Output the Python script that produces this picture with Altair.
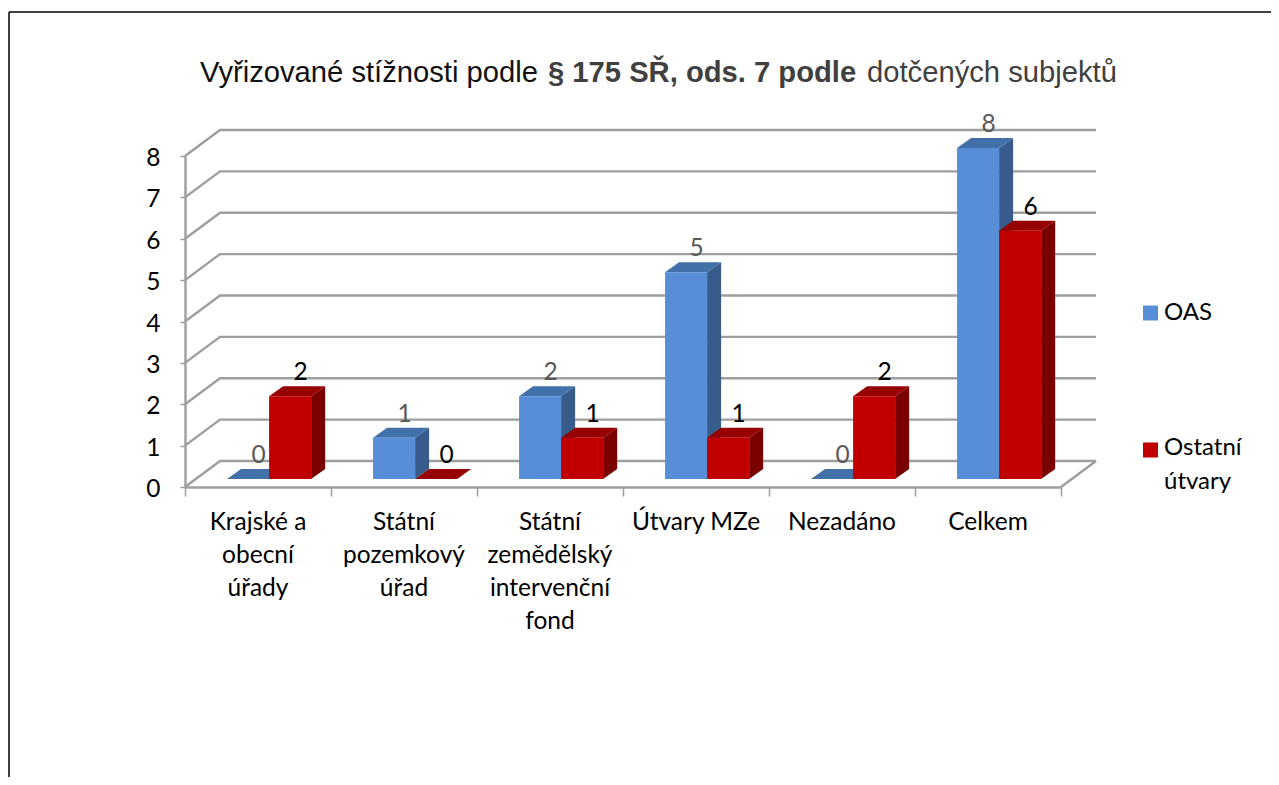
import altair as alt
import pandas as pd

categories = ["Krajské a\nobecní\núřady", "Státní\npozemkový\núřad",
              "Státní\nzemědělský\nintervenční\nfond", "Útvary MZe", "Nezadáno", "Celkem"]
oas = [0, 1, 2, 5, 0, 8]
ostatni = [2, 0, 1, 1, 2, 6]
SERIES = ["OAS", "Ostatní útvary"]
FRONT = ["#588DD7", "#C00000"]
SIDE = ["#375B8A", "#7A0000"]
TOP = ["#4270A8", "#960000"]
LABEL = ["#595959", "#000000"]
FONT = "Lato"
SIZE = 24.5
GRID = "#9E9E9E"

# depth of the floor and of the bars, in scale units
WALL_DX, WALL_DY = 0.24, 0.628
BAR_DX, BAR_DY = 0.096, 0.2415
BASE = 0.193
BAR_W = 0.288

xs = alt.Scale(domain=[0, 6], nice=False, zero=False)
ys = alt.Scale(domain=[0, 8], nice=False, zero=False)
X = lambda f, **k: alt.X(f, type="quantitative", scale=xs, title=None, **k)
Y = lambda f, **k: alt.Y(f, type="quantitative", scale=ys, title=None, **k)

# grid on the walls
grid_rows = []
for v in range(9):
    for j, (a, b) in enumerate([(0, v), (WALL_DX, v + WALL_DY), (6 + WALL_DX, v + WALL_DY)]):
        grid_rows.append(dict(v=v, j=j, x=a, y=b))
floor = pd.DataFrame([dict(x=6, y=0, j=0), dict(x=6 + WALL_DX, y=WALL_DY, j=1)])
grid = alt.Chart(pd.DataFrame(grid_rows)).mark_line(color=GRID, strokeWidth=2.4, clip=False).encode(
    x=X("x"), y=Y("y"), detail="v:N", order="j:Q")
floor_line = alt.Chart(floor).mark_line(color=GRID, strokeWidth=2.4).encode(
    x=X("x"), y=Y("y"), order="j:Q")


def bar_layers(values, s):
    left = [i + BAR_W * (1 + s) for i in range(6)]
    side, top = [], []
    for i, (l, v) in enumerate(zip(left, values)):
        r = l + BAR_W
        h = v + BASE
        side += [dict(i=i, x=r, y=h, y2=BASE),
                 dict(i=i, x=r + BAR_DX, y=h + BAR_DY, y2=BASE + BAR_DY)]
        top += [dict(i=i, x=l, x2=r, y=h),
                dict(i=i, x=l + BAR_DX, x2=r + BAR_DX, y=h + BAR_DY)]
    front = pd.DataFrame(dict(x=left, x2=[l + BAR_W for l in left],
                              y=[v + BASE for v in values], y2=[BASE] * 6,
                              s=[SERIES[s]] * 6, v=values))
    side_c = alt.Chart(pd.DataFrame(side)).mark_area(color=SIDE[s], line=False).encode(
        x=X("x"), y=Y("y"), y2="y2:Q", detail="i:N")
    top_c = alt.Chart(pd.DataFrame(top)).mark_area(color=TOP[s], orient="horizontal").encode(
        x=X("x"), x2="x2:Q", y=Y("y"), detail="i:N")
    front_c = alt.Chart(front).mark_rect(color=FRONT[s]).encode(
        x=X("x"), x2="x2:Q", y=Y("y"), y2="y2:Q")
    # number above each bar
    txt = pd.DataFrame(dict(x=[l + BAR_W / 2 for l in left], y=[v + BASE for v in values], v=values))
    text_c = alt.Chart(txt).mark_text(font=FONT, fontSize=SIZE, color=LABEL[s], dx=10.5, dy=-23,
                                      baseline="middle", align="center").encode(
        x=X("x"), y=Y("y"), text="v:Q")
    return [side_c, top_c, front_c], text_c


blue, blue_t = bar_layers(oas, 0)
red, red_t = bar_layers(ostatni, 1)

axes = alt.Chart(pd.DataFrame(dict(x=[0], y=[0]))).mark_point(opacity=0).encode(
    x=X("x", axis=alt.Axis(values=list(range(7)), labels=False, grid=False, domainColor=GRID,
                           domainWidth=2.4, tickColor=GRID, tickWidth=1.5, tickSize=9)),
    y=Y("y", axis=alt.Axis(values=list(range(9)), grid=False, domainColor=GRID, domainWidth=2.4,
                           tickColor=GRID, tickWidth=1.5, tickSize=5, labelFont=FONT,
                           labelFontSize=SIZE, labelColor="#000000", labelPadding=20, labelOffset=2.5,
                           format="d")))

cat_df = pd.DataFrame(dict(x=[i + 0.5 for i in range(6)], y=[0] * 6, c=categories))
cat_labels = alt.Chart(cat_df).mark_text(font=FONT, fontSize=SIZE, color="#000000", lineBreak="\n",
                                         lineHeight=33, baseline="top", align="center", dy=24).encode(
    x=X("x"), y=Y("y"), text="c:N")

FONT_T = "Liberation Sans"
title_parts = [("Vyřizované stížnosti podle", "normal", 15, "#111111"),
               ("§ 175 SŘ, ods. 7 podle", "bold", 363, "#404040"),
               ("dotčených subjektů", "normal", 682, "#404040")]
titles = []
for text, weight, px, col in title_parts:
    titles.append(alt.Chart(pd.DataFrame(dict(t=[text]))).mark_text(
        font=FONT_T, fontSize=29.2, fontWeight=weight, color=col, align="left", baseline="middle").encode(
        x=alt.value(px), y=alt.value(-83), text="t:N"))

# legend: one swatch and one label per series, placed by hand as in the reference
legend_layers = []
for name, sw_col, sw_y, txt_y in [("OAS", FRONT[0], 157, 157),
                                  ("Ostatní\nútvary", FRONT[1], 294, 292)]:
    d = pd.DataFrame(dict(t=[name]))
    legend_layers.append(alt.Chart(d).mark_square(size=225, color=sw_col, opacity=1).encode(
        x=alt.value(965.5), y=alt.value(sw_y)))
    legend_layers.append(alt.Chart(d).mark_text(font=FONT, fontSize=24, color="#000000", align="left",
                                                baseline="middle", lineBreak="\n", lineHeight=34).encode(
        x=alt.value(979), y=alt.value(txt_y), text="t:N"))

frame_top = alt.Chart(pd.DataFrame(dict(a=[0]))).mark_rule(color="#000000", strokeWidth=1.5).encode(
    x=alt.value(-176), x2=alt.value(1094), y=alt.value(-144))
frame_left = alt.Chart(pd.DataFrame(dict(a=[0]))).mark_rule(color="#000000", strokeWidth=1.5).encode(
    x=alt.value(-176), y=alt.value(-144), y2=alt.value(629))

chart = alt.layer(
    grid, floor_line, axes, *blue, *red, blue_t, red_t, cat_labels, *titles, *legend_layers,
    frame_top, frame_left
).properties(
    width=876, height=331,
    autosize=alt.AutoSizeParams(type="none"),
    padding={"left": 177, "top": 148, "right": 210, "bottom": 290},
).configure_view(stroke=None)

chart.save("out.html", embed_options={"renderer": "svg", "actions": False})
